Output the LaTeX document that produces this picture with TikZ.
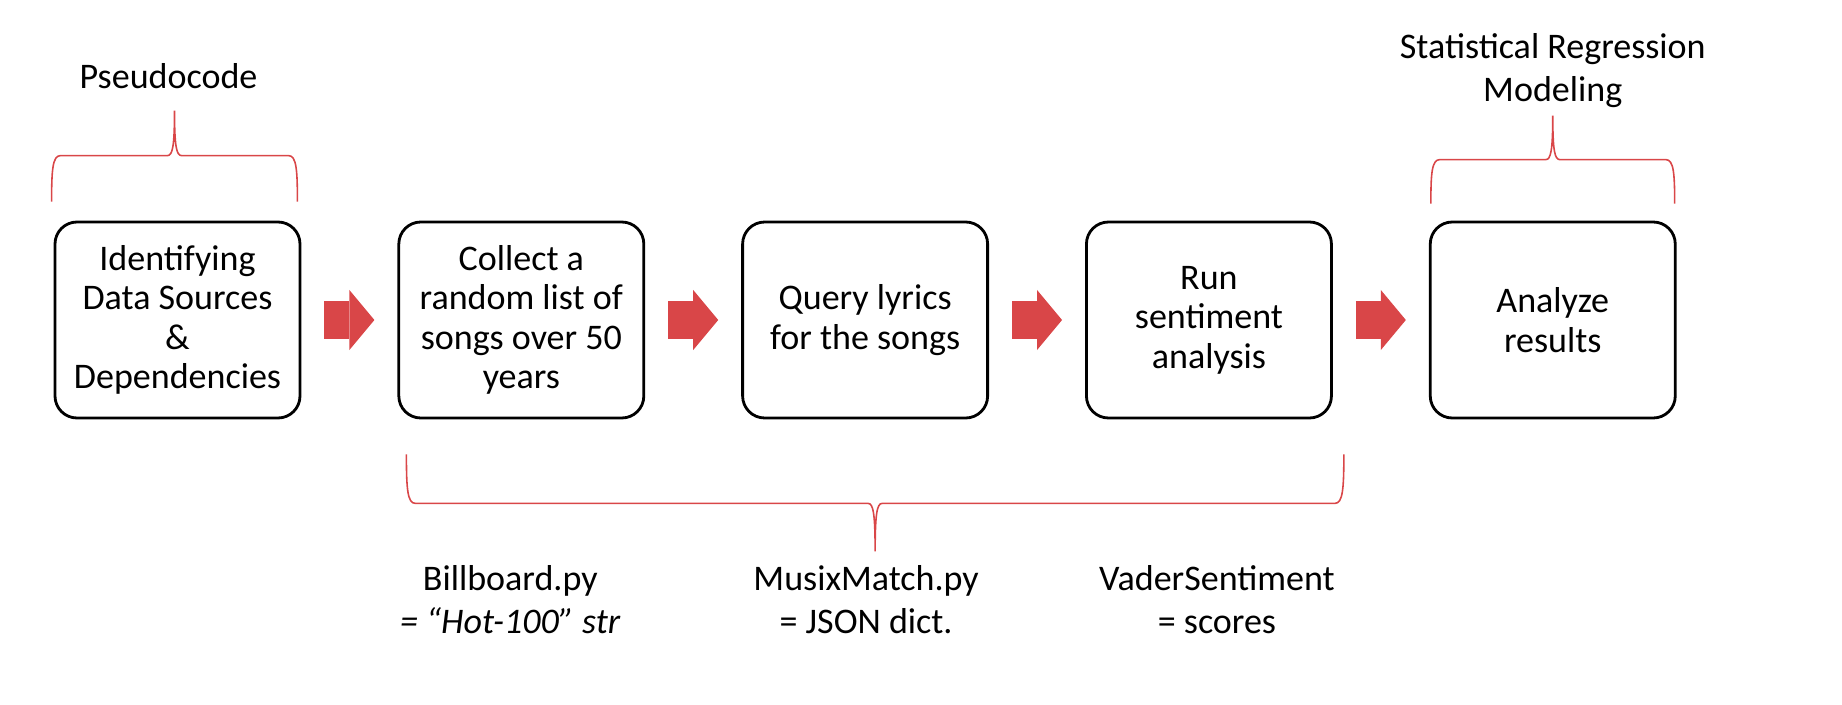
\documentclass[tikz,border=0pt]{standalone}
\usepackage{fontspec}
\setmainfont{Carlito}
\usetikzlibrary{arrows.meta}
\usetikzlibrary{calc}
\usetikzlibrary{positioning}

\definecolor{arrowred}{RGB}{217,70,72}

% curly brace between two tips: bar offset #3, spike offset #4 (negative = downwards)
\newcommand*\curly[4]{
    \draw[bracered] let \p1=(#1), \p2=(#2), \p3=($(#1)!0.5!(#2)$) in
        (\p1) .. controls (\x1,{\y1+0.7*(#3)}) and ({\x1+0.01cm},{\y1+(#3)}) .. ({\x1+0.09cm},{\y1+(#3)})
        -- ({\x3-0.07cm},{\y1+(#3)}) .. controls ({\x3-0.02cm},{\y1+(#3)}) and (\x3,{\y1+(#3)+0.2*((#4)-(#3))}) .. (\x3,{\y1+(#4)})
        .. controls (\x3,{\y1+(#3)+0.2*((#4)-(#3))}) and ({\x3+0.02cm},{\y1+(#3)}) .. ({\x3+0.07cm},{\y1+(#3)})
        -- ({\x2-0.09cm},{\y1+(#3)}) .. controls ({\x2-0.01cm},{\y1+(#3)}) and (\x2,{\y1+0.7*(#3)}) .. (\p2);
}

\begin{document}
\begin{tikzpicture}[
    stage/.style={draw, rounded corners=0.22cm, line width=0.8pt, minimum width=2.45cm, minimum height=1.96cm, align=center, font=\fontsize{10.25}{11.2}\selectfont},
    note/.style={align=center, font=\fontsize{10.25}{12.3}\selectfont},
    flow/.style={draw=arrowred, line width=3.7mm, shorten <=2.3mm, shorten >=2.3mm, -{Triangle[length=2.5mm, width=6mm, line width=0pt]}},
    bracered/.style={draw=arrowred, line width=0.45pt},
    node distance=0.96cm
]

    \useasboundingbox (0,0) rectangle (18.42,7.04);

    % Define nodes
    \node (A) [stage] at (1.775,3.84) {Identifying\\Data Sources\\\&\\Dependencies};
    \node (B) [stage, right=of A] {Collect a\\random list of\\songs over 50\\years};
    \node (C) [stage, right=of B] {Query lyrics\\for the songs};
    \node (D) [stage, right=of C] {Run\\sentiment\\analysis};
    \node (E) [stage, right=of D] {Analyze\\results};

    % Labels
    \node (pseudo) [note, anchor=base] at ($(A.north)+(-0.09,1.32)$) {Pseudocode};
    \node (stats) [note] at ($(E.north)+(0,1.50)$) {Statistical Regression\\Modeling};
    \node (bb) [note] at ($(B.south)+(-0.11,-1.80)$) {Billboard.py\\\textit{= “Hot-100” str}};
    \node (mm) [note] at ($(C.south)+(0.01,-1.80)$) {MusixMatch.py\\= JSON dict.};
    \node (vs) [note] at ($(D.south)+(0.08,-1.80)$) {VaderSentiment\\= scores};

    % Draw arrows
    \draw[flow] (A) -- (B);
    \draw[flow] (B) -- (C);
    \draw[flow] (C) -- (D);
    \draw[flow] (D) -- (E);

    % Braces
    \coordinate (pl) at ($(A.north west)+(-0.02,0.19)$);
    \coordinate (pr) at ($(A.north east)+(-0.04,0.19)$);
    \curly{pl}{pr}{0.46cm}{0.91cm}
    \coordinate (ml) at ($(E.north west)+(0.02,0.17)$);
    \coordinate (mr) at ($(E.north east)+(-0.02,0.17)$);
    \curly{ml}{mr}{0.44cm}{0.88cm}
    \coordinate (sl) at ($(B.south west)+(0.09,-0.35)$);
    \coordinate (sr) at ($(D.south east)+(0.11,-0.35)$);
    \curly{sl}{sr}{-0.49cm}{-0.97cm}

\end{tikzpicture}
\end{document}
